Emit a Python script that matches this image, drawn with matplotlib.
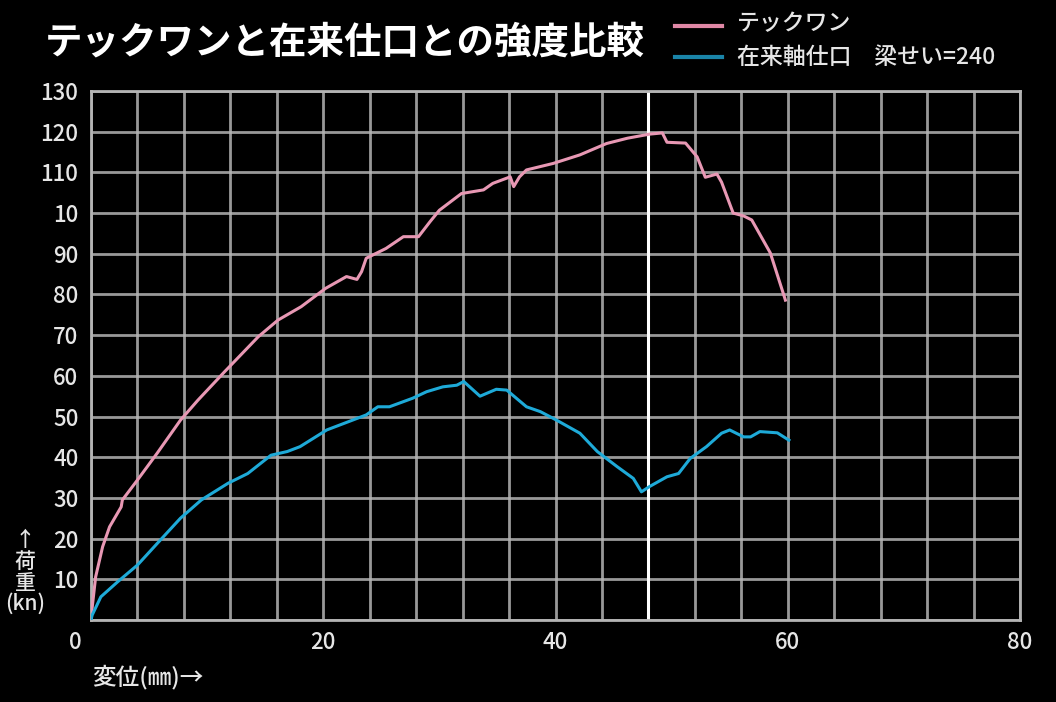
import matplotlib
matplotlib.use("Agg")
import matplotlib.pyplot as plt
import matplotlib.transforms as mtransforms
from matplotlib.lines import Line2D

plt.rcParams['font.family'] = ['Noto Sans CJK JP', 'DejaVu Sans']

# --- data ---
tec_x = [0, 0.4, 1.0, 1.6, 2.6, 2.7, 4.0, 5.7, 7.7, 9.2, 11.5, 14.4, 16.1, 18.1, 20.2,
         22.0, 22.9, 23.3, 23.7, 25.4, 26.9, 28.2, 29.2, 30.0, 31.9, 33.8, 34.6, 36.1,
         36.4, 36.9, 37.5, 39.8, 42.1, 44.4, 46.2, 48.1, 49.2, 49.6, 51.2, 52.2, 52.9,
         53.9, 54.3, 55.3, 56.2, 56.9, 58.5, 59.8]
tec_y = [0.5, 10.6, 18, 22.9, 27.8, 29.5, 34.4, 41, 49.1, 54, 61, 69.6, 73.7, 77, 81.5,
         84.4, 83.7, 85.6, 88.9, 91.3, 94.2, 94.2, 97.9, 100.7, 104.8, 105.7, 107.3, 108.9,
         106.5, 108.9, 110.6, 112.2, 114.3, 117.1, 118.4, 119.4, 119.7, 117.4, 117.2, 113.8, 108.8,
         109.6, 107.6, 100, 99.3, 98.3, 90.2, 78.6]

conv_x = [0, 0.1, 0.85, 2.3, 4.0, 5.7, 7.7, 9.5, 11.8, 13.5, 15.5, 16.9, 18.0, 20.3, 23.7,
          24.7, 25.7, 27.7, 28.9, 30.3, 31.5, 32.1, 33.5, 34.9, 35.8, 37.5, 38.7, 40.1,
          42.1, 43.6, 45.3, 46.7, 47.4, 48.1, 49.6, 50.6, 51.6, 53.0, 54.3, 55.0, 56.2,
          56.8, 57.6, 59.1, 60.1]
conv_y = [0, 1.2, 5.7, 9.4, 13.5, 18.8, 25, 29.5, 33.6, 36, 40.5, 41.4, 42.6, 46.7, 50.4,
          52.4, 52.4, 54.5, 56.1, 57.3, 57.7, 58.6, 55, 56.7, 56.5, 52.4, 51.2, 49.1,
          45.9, 41.4, 37.7, 34.8, 31.5, 32.8, 35.2, 36, 39.7, 42.6, 45.9, 46.7, 45,
          45, 46.3, 46, 44.2]

x_ticks = [0, 20, 40, 60, 80]
y_ticks = [10, 20, 30, 40, 50, 60, 70, 80, 90, 100, 110, 120, 130]
y_tick_labels = ["10", "20", "30", "40", "50", "60", "70", "80", "90", "10", "110", "120", "130"]
highlight_x = 48

title = "テックワンと在来仕口との強度比較"
label_tec = "テックワン"
label_conv = "在来軸仕口　梁せい=240"

# --- figure ---
fig = plt.figure(figsize=(10.56, 7.02), dpi=100, facecolor="black")
ax = fig.add_axes([91/1056, 1 - 620/702, (1020 - 91)/1056, (620 - 91)/702])
ax.set_facecolor("black")
ax.set_xlim(0, 80)
ax.set_ylim(0, 130)

grid_color = "#b4b4b4"
ax.set_xticks(x_ticks)
ax.set_xticklabels([str(v) for v in x_ticks])
ax.set_yticks(y_ticks)
ax.set_yticklabels(y_tick_labels)
for xv in range(0, 81, 4):
    if xv != highlight_x:
        ax.axvline(xv, color=grid_color, linewidth=2.0, alpha=0.85, zorder=1)
for yv in range(0, 131, 10):
    ax.axhline(yv, color=grid_color, linewidth=2.0, alpha=0.85, zorder=1)
ax.tick_params(which="both", length=0, colors="#e6e6e6", labelsize=16, pad=9)
ax.tick_params(axis="x", pad=8)
for lbl in ax.get_xticklabels() + ax.get_yticklabels():
    lbl.set_fontweight("medium")
for s in ax.spines.values():
    s.set_color(grid_color)
    s.set_linewidth(2.0)

# shift the "0" x label to the left as in the reference
lbl0 = ax.get_xticklabels()[0]
lbl0.set_transform(lbl0.get_transform() + mtransforms.ScaledTranslation(-16/100, 0, fig.dpi_scale_trans))

ax.axvline(highlight_x, color="white", linewidth=2.2, zorder=2.5)

ax.plot(tec_x, tec_y, color="#e898b4", linewidth=2.2, zorder=3)
ax.plot(conv_x, conv_y, color="#1eaad8", linewidth=2.2, zorder=3)

# title
fig.text(45/1056, 1 - 42/702, title, color="white", fontsize=27, fontweight="bold",
         va="center", ha="left")

# legend (manual)
fig.add_artist(Line2D([675/1056, 722/1056], [1 - 26/702, 1 - 26/702], color="#e088a6", linewidth=3))
fig.add_artist(Line2D([675/1056, 722/1056], [1 - 57/702, 1 - 57/702], color="#1a84a8", linewidth=3))
fig.text(737/1056, 1 - 24/702, label_tec, color="#e6e6e6", fontsize=16.5, fontweight="medium",
         va="center", ha="left")
fig.text(737/1056, 1 - 57/702, label_conv, color="#e6e6e6", fontsize=16.5, fontweight="medium",
         va="center", ha="left")

# axis labels
fig.text(25/1056, 1 - 572/702, "↑\n荷\n重\n(kn)", color="#e6e6e6", fontsize=15,
         fontweight="medium", va="center", ha="center", linespacing=0.95)
fig.text(92/1056, 1 - 677/702, "変位(㎜)→", color="#e6e6e6", fontsize=17,
         fontweight="medium", va="center", ha="left")

fig.savefig("out.png", dpi=100, facecolor="black")
